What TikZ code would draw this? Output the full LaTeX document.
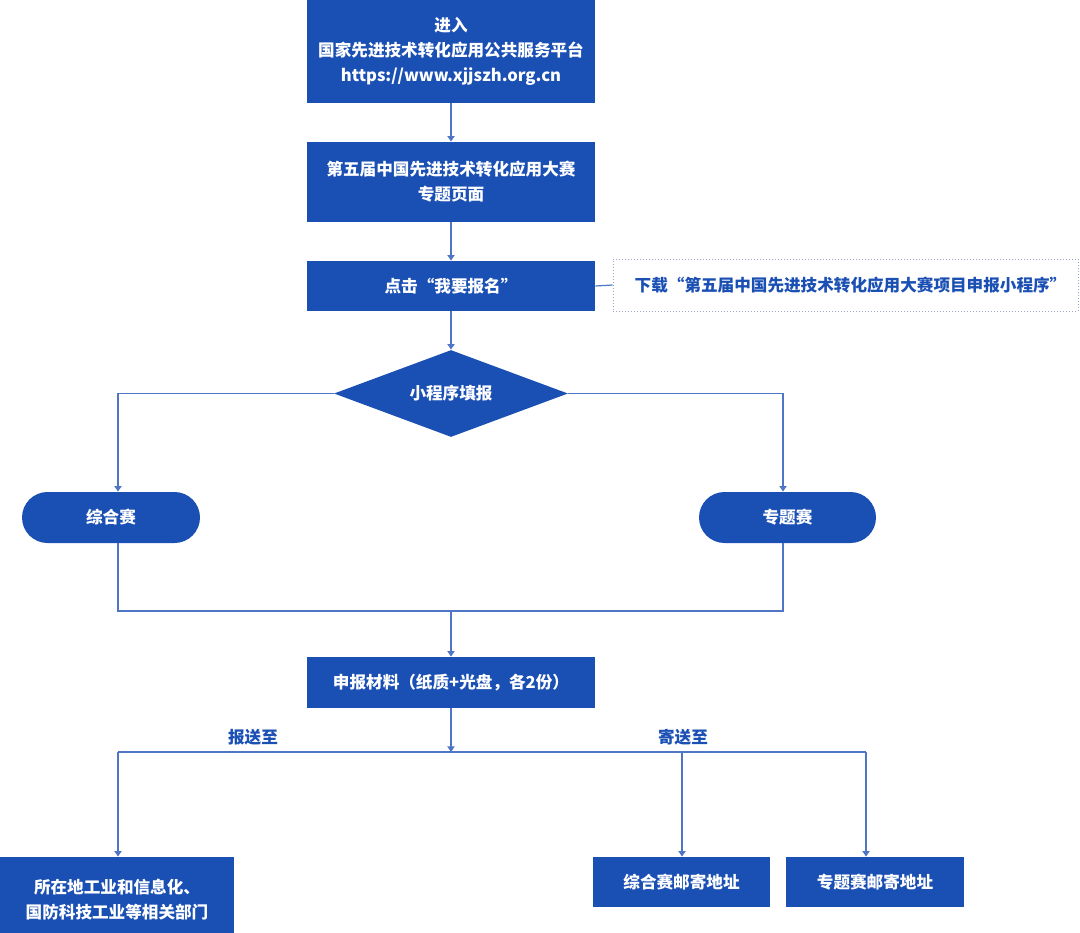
\documentclass[tikz,border=0pt]{standalone}
\usepackage{fontspec}
\setmainfont{Noto Sans CJK SC}
\usetikzlibrary{shapes.geometric,shapes.misc,arrows.meta}
\definecolor{bfill}{HTML}{1A4FB4}
\definecolor{bline}{HTML}{4F76C4}
\definecolor{dotc}{HTML}{98A4C0}
\begin{document}
\begin{tikzpicture}[x=0.5pt,y=-0.5pt,
  every node/.style={font=\fontsize{8.3pt}{12.5pt}\selectfont\bfseries},
  bbox/.style={rectangle,fill=bfill,text=white,inner sep=0pt,align=center},
  pill/.style={rounded rectangle,fill=bfill,text=white,inner sep=0pt,align=center},
  dia/.style={diamond,shape aspect=2.69,fill=bfill,text=white,inner sep=0pt,align=center},
  dlbox/.style={rectangle,draw=dotc,densely dotted,line width=0.5pt,text=bfill,inner sep=0pt,align=center},
  lbl/.style={text=bfill,inner sep=0pt},
  conn/.style={draw=bline,line width=0.6pt},
  arr/.style={conn,-{Triangle[width=3.6pt,length=2.8pt]}}]
\useasboundingbox (0,0) rectangle (1080,932);
\fill[white] (0,0) rectangle (1080,932);
% nodes
\node[bbox,minimum width=144pt,minimum height=51.5pt] (b1) at (451,51.5) {进入\\国家先进技术转化应用公共服务平台\\https://www.xjjszh.org.cn};
\node[bbox,minimum width=144pt,minimum height=40pt] (b2) at (451,182) {第五届中国先进技术转化应用大赛\\专题页面};
\node[bbox,minimum width=144pt,minimum height=25pt] (b3) at (451,286) {点击“我要报名”};
\node[dlbox,minimum width=232.5pt,minimum height=26pt] (dl) at (845.5,285) {\hspace{5pt}下载“第五届中国先进技术转化应用大赛项目申报小程序”};
\node[dia,minimum width=117pt,minimum height=43.5pt] (d) at (451,393.5) {小程序填报};
\node[pill,minimum width=89pt,minimum height=25.5pt] (pl) at (111,517.5) {综合赛};
\node[pill,minimum width=88.5pt,minimum height=25.5pt] (pr) at (787.5,517.5) {专题赛};
\node[bbox,minimum width=144pt,minimum height=25.5pt] (b4) at (451,682.5) {申报材料（纸质+光盘，各2份）};
\node[bbox,minimum width=117pt,minimum height=43pt] (b5) at (117,900) {所在地工业和信息化、\\国防科技工业等相关部门};
\node[bbox,minimum width=88.5pt,minimum height=25pt] (b6) at (681.5,882) {综合赛邮寄地址};
\node[bbox,minimum width=89pt,minimum height=25pt] (b7) at (875,882) {专题赛邮寄地址};
\node[lbl] (l1) at (253,737) {报送至};
\node[lbl] (l2) at (683,737) {寄送至};
% helper coordinates
\coordinate (xl) at (118,0);
\coordinate (xr) at (783,0);
\coordinate (jn) at (451,611);
\coordinate (hl) at (118,752);
\coordinate (hm) at (451,752);
\coordinate (hc) at (682,752);
\coordinate (hr) at (866,752);
% connectors
\draw[arr] (b1.south) -- (b2.north);
\draw[arr] (b2.south) -- (b3.north);
\draw[conn] (b3.east) -- (dl.west);
\draw[arr] (b3.south) -- (d.north);
\draw[arr] (d.west) -| (xl |- pl.north);
\draw[arr] (d.east) -| (xr |- pr.north);
\draw[conn] (xl |- pl.south) |- (jn) -| (xr |- pr.south);
\draw[arr] (jn) -- (b4.north);
\draw[arr] (b4.south) -- (hm);
\draw[conn] (hl) -- (hr);
\draw[arr] (hl) -- (hl |- b5.north);
\draw[arr] (hc) -- (hc |- b6.north);
\draw[arr] (hr) -- (hr |- b7.north);
\end{tikzpicture}
\end{document}
